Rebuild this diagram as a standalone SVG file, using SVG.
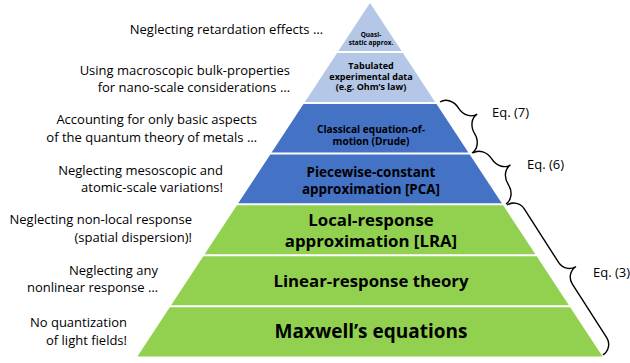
<svg xmlns="http://www.w3.org/2000/svg" width="630" height="363" viewBox="0 0 630 363">
<style>
  text { font-family: "Open Sans", "Liberation Sans", sans-serif; fill: #000; }
  .lbl { font-size: 13px; text-anchor: end; }
  .eq { font-size: 13px; }
  .in { font-weight: 700; text-anchor: middle; }
  .lb { fill: #B4C7E7; }
  .bl { fill: #4472C4; }
  .gr { fill: #92D050; }
  .brace { fill: none; stroke: #000; stroke-width: 1.4; }
</style>
<rect width="630" height="363" fill="#fff"/>

<g id="quasi-static">
  <polygon class="lb" points="370,3 401.6,51 338.4,51"/>
  <text class="in" x="371" y="36.5" font-size="6.5">Quasi-</text>
  <text class="in" x="371" y="45" font-size="6.5">static approx.</text>
</g>
<g id="tabulated">
  <polygon class="lb" points="337.1,53 402.9,53 435.1,102 304.9,102"/>
  <text class="in" x="371" y="69" font-size="9">Tabulated</text>
  <text class="in" x="371" y="79.5" font-size="9">experimental data</text>
  <text class="in" x="371" y="89.5" font-size="9">(e.g. Ohm’s law)</text>
</g>
<g id="classical">
  <polygon class="bl" points="303.5,104 436.5,104 468.4,152.5 271.6,152.5"/>
  <text class="in" x="371" y="133.3" font-size="10.1">Classical equation-of-</text>
  <text class="in" x="371" y="145" font-size="10.1">motion (Drude)</text>
</g>
<g id="pca">
  <polygon class="bl" points="270.3,154.5 469.7,154.5 501.8,203.3 238.2,203.3"/>
  <text class="in" x="371" y="177" font-size="13.4">Piecewise-constant</text>
  <text class="in" x="371" y="194" font-size="13.4">approximation [PCA]</text>
</g>
<g id="lra">
  <polygon class="gr" points="236.9,205.3 503.1,205.3 535.4,254.3 204.6,254.3"/>
  <text class="in" x="371" y="226" font-size="16.8">Local-response</text>
  <text class="in" x="371" y="246.5" font-size="16.8">approximation [LRA]</text>
</g>
<g id="linear">
  <polygon class="gr" points="203.3,256.3 536.7,256.3 568.9,305.3 171.1,305.3"/>
  <text class="in" x="371" y="286.7" font-size="16.8">Linear-response theory</text>
</g>
<g id="maxwell">
  <polygon class="gr" points="169.8,307.3 570.2,307.3 602.6,356.5 137.4,356.5"/>
  <text class="in" x="371" y="337.7" font-size="19">Maxwell’s equations</text>
</g>

<g id="labels">
  <text class="lbl" x="323" y="34">Neglecting retardation effects …</text>
  <text class="lbl" x="290" y="75">Using macroscopic bulk-properties</text>
  <text class="lbl" x="290" y="92.3">for nano-scale considerations …</text>
  <text class="lbl" x="257" y="124">Accounting for only basic aspects</text>
  <text class="lbl" x="257" y="141.7">of the quantum theory of metals …</text>
  <text class="lbl" x="223" y="175">Neglecting mesoscopic and</text>
  <text class="lbl" x="223" y="192.3">atomic-scale variations!</text>
  <text class="lbl" x="192" y="224">Neglecting non-local response</text>
  <text class="lbl" x="192" y="241.7">(spatial dispersion)!</text>
  <text class="lbl" x="158" y="275">Neglecting any</text>
  <text class="lbl" x="158" y="292.3">nonlinear response …</text>
  <text class="lbl" x="127" y="326.7">No quantization</text>
  <text class="lbl" x="127" y="345">of light fields!</text>
</g>

<g id="connectors">
  <path class="brace" transform="translate(440,102) rotate(-32.1)" d="M0,0 C6.9,0 12.5,6.7 12.5,15 C12.5,23.3 18.1,30.1 25,30.1 C18.1,30.1 12.5,36.9 12.5,45.2 C12.5,53.4 6.9,60.2 0,60.2"/>
  <path class="brace" transform="translate(473,153) rotate(-32.9)" d="M0,0 C6.9,0 12.5,6.8 12.5,15.2 C12.5,23.5 18.1,30.4 25,30.4 C18.1,30.4 12.5,37.2 12.5,45.5 C12.5,53.9 6.9,60.7 0,60.7"/>
  <path class="brace" transform="translate(507,205) rotate(-32.6)" d="M0,0 C6.9,0 12.5,5.6 12.5,12.5 L12.5,76.5 C12.5,83.4 18.1,89 25,89 C18.1,89 12.5,94.6 12.5,101.5 L12.5,165.5 C12.5,172.4 6.9,178 0,178"/>
</g>

<g id="eq-labels">
  <text class="eq" x="492" y="117.3">Eq. (7)</text>
  <text class="eq" x="527" y="169">Eq. (6)</text>
  <text class="eq" x="593" y="277.3">Eq. (3)</text>
</g>
</svg>
